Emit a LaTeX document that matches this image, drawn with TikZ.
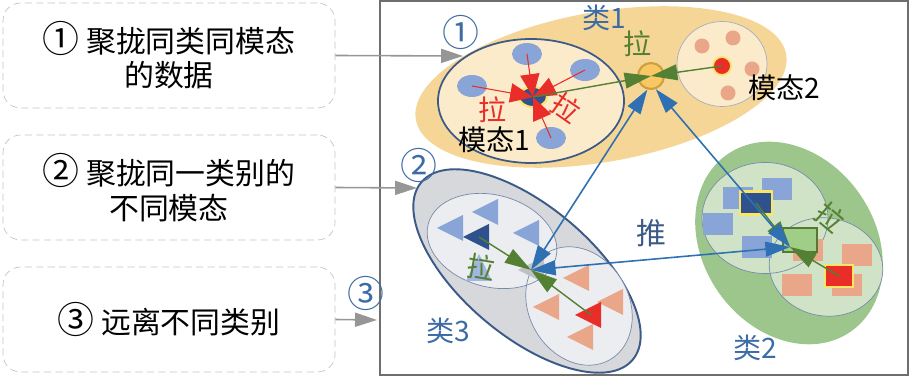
\documentclass[tikz,border=0pt]{standalone}
\usepackage{fontspec}
\setmainfont{Noto Sans CJK SC}
\usetikzlibrary{shapes.geometric,arrows.meta}
\definecolor{clsone}{RGB}{246,214,150}
\definecolor{modfill}{RGB}{252,235,202}
\definecolor{dotblue}{RGB}{137,165,215}
\definecolor{darkblue}{RGB}{47,82,143}
\definecolor{markred}{RGB}{233,45,40}
\definecolor{pink}{RGB}{234,166,136}
\definecolor{yel}{RGB}{250,230,100}
\definecolor{clsthree}{RGB}{214,216,220}
\definecolor{inthree}{RGB}{236,237,240}
\definecolor{clstwo}{RGB}{156,198,140}
\definecolor{intwo}{RGB}{208,227,199}
\definecolor{edgeblue}{RGB}{60,90,135}
\definecolor{thinblue}{RGB}{120,140,170}
\definecolor{lblblue}{RGB}{60,108,165}
\definecolor{ggreen}{RGB}{84,128,52}
\definecolor{bblue}{RGB}{46,112,178}
\definecolor{protofill}{RGB}{248,200,100}
\definecolor{protoring}{RGB}{205,160,60}
\definecolor{gprotofill}{RGB}{160,205,135}
\definecolor{gprotoring}{RGB}{85,120,50}
\definecolor{grayproto}{RGB}{190,192,196}
\definecolor{boxgray}{RGB}{195,195,195}
\definecolor{arrowgray}{RGB}{150,150,150}
\definecolor{framegray}{RGB}{110,110,110}
\newlength\pxu
\setlength\pxu{0.02cm}
% circled step number, set a bit larger
\newcommand{\circnum}[1]{{\fontsize{21pt}{21pt}\selectfont #1}}
% triangle marker: tip at (#1,#2), name #3, colour #4
\newcommand{\marktri}[4]{%
  \fill[#4] (#1,#2) -- ++(26,-13) -- ++(0,26) -- cycle;
  \path (#1,#2) ++(16,0) coordinate (#3);}

\begin{document}
\begin{tikzpicture}[x=0.02cm,y=-0.02cm,
  stepbox/.style={draw=boxgray,dash pattern=on 4pt off 2.5pt,rounded corners=10pt,
    minimum width=332*\pxu,minimum height=105*\pxu,align=center,inner sep=0pt,
    font=\fontsize{17pt}{19.5pt}\selectfont},
  lbl/.style={inner sep=0pt,font=\fontsize{16pt}{16pt}\selectfont},
  oval/.style={ellipse,inner sep=0pt},
  dot/.style={ellipse,inner sep=0pt,fill=dotblue,minimum width=30*\pxu,minimum height=22*\pxu},
  pdot/.style={circle,inner sep=0pt,fill=pink,minimum size=15*\pxu},
  sq/.style={rectangle,inner sep=0pt,minimum width=30*\pxu,minimum height=22*\pxu},
  grayarrow/.style={arrowgray,line width=0.9pt,-{Triangle[length=12.5pt,width=8pt]}},
  rarrow/.style={markred,line width=0.6pt,-{Triangle[length=13pt,width=11pt]}},
  garrow/.style={ggreen,line width=0.8pt,-{Triangle[length=15pt,width=9pt]}},
  barrow/.style={bblue,line width=0.9pt,{Triangle[length=14pt,width=8.5pt]}-{Triangle[length=14pt,width=8.5pt]}}]
\useasboundingbox (0,0) rectangle (910,377);

% left steps
\node[stepbox] (box1) at (169,55.5) {\circnum{①} 聚拢同类同模态\\的数据};
\node[stepbox] (box2) at (169,187.5) {\circnum{②} 聚拢同一类别的\\不同模态};
\node[stepbox] (box3) at (169,319.5) {\circnum{③} 远离不同类别};

\draw[framegray,line width=0.6pt] (380,1) rectangle (908,375);

% class 1
\node[oval,fill=clsone,minimum width=376*\pxu,minimum height=150*\pxu,rotate=10] (cls1) at (601,87) {};
\node[oval,fill=modfill,draw=edgeblue,line width=1pt,minimum width=186*\pxu,minimum height=124*\pxu] (mod1) at (531,101) {};
\node[oval,fill=modfill,draw=thinblue!70,line width=0.4pt,minimum width=90*\pxu,minimum height=85*\pxu] (mod2) at (722,64) {};

% class 3
\node[oval,fill=clsthree,draw=edgeblue,line width=1.1pt,minimum width=276*\pxu,minimum height=130*\pxu,rotate=-40] (cls3) at (527,271) {};
\node[oval,fill=inthree,minimum width=132*\pxu,minimum height=92*\pxu,rotate=-15] (mod3a) at (492,241) {};
\node[oval,fill=inthree,minimum width=124*\pxu,minimum height=100*\pxu,rotate=-60] (mod3b) at (579,306) {};
\node[oval,draw=thinblue,line width=0.4pt,minimum width=132*\pxu,minimum height=92*\pxu,rotate=-15] (mod3ao) at (492,241) {};
\node[oval,draw=thinblue,line width=0.4pt,minimum width=124*\pxu,minimum height=100*\pxu,rotate=-60] (mod3bo) at (579,306) {};

% class 2
\node[oval,fill=clstwo,minimum width=216*\pxu,minimum height=172*\pxu,rotate=-55] (cls2) at (789,243) {};
\node[oval,fill=intwo,minimum width=126*\pxu,minimum height=111*\pxu] (mod2a) at (765,218) {};
\node[oval,fill=intwo,minimum width=114*\pxu,minimum height=98*\pxu,rotate=-10] (mod2b) at (826,267) {};
\node[oval,draw=thinblue,line width=0.4pt,minimum width=126*\pxu,minimum height=111*\pxu] (mod2ao) at (765,218) {};
\node[oval,draw=thinblue,line width=0.4pt,minimum width=114*\pxu,minimum height=98*\pxu,rotate=-10] (mod2bo) at (826,267) {};

% class 1 markers
\node[dot] (d1) at (527,54) {};
\node[dot] (d2) at (585,70) {};
\node[dot] (d3) at (472,86) {};
\node[dot] (d4) at (551,138) {};
\node[dot,fill=darkblue,draw=yel,line width=1.2pt,minimum width=28*\pxu,minimum height=20*\pxu] (m1c) at (533,97) {};
\foreach \d in {d1,d2,d3,d4}
  \draw[rarrow] (\d.center) -- (m1c.center);
\foreach \n/\x/\y in {e1/733/38,e2/702/46,e3/752/69,e4/728/93}
  \node[pdot] (\n) at (\x,\y) {};
\node[pdot,fill=markred,draw=yel,line width=1pt,minimum size=18*\pxu] (m2c) at (722,66) {};
\node[circle,inner sep=0pt,fill=protofill,draw=protoring,line width=1.2pt,minimum size=26*\pxu] (p1) at (651,76) {};
\draw[garrow] (m1c.center) -- (p1.center);
\draw[garrow] (m2c.center) -- (p1.center);

% class 3 markers
\marktri{437}{228}{t1}{dotblue}
\marktri{472}{212}{t2}{dotblue}
\marktri{513}{233}{t3}{dotblue}
\fill[dotblue!80] (479,254) -- (492,281) -- (466,281) -- cycle;
\marktri{463}{237}{tdark}{darkblue}
\marktri{563}{278}{o1}{pink}
\marktri{533}{307}{o2}{pink}
\marktri{597}{302}{o3}{pink}
\marktri{567}{337}{o4}{pink}
\marktri{575}{315}{tred}{markred}
\marktri{518}{270}{tgray}{grayproto}
\coordinate (c3) at (531,270);
\draw[garrow] (tdark) -- (c3);
\draw[garrow] (tred) -- (c3);

% class 2 markers
\node[sq,fill=dotblue] (s1) at (738,198) {};
\node[sq,fill=dotblue] (s2) at (777,189) {};
\node[sq,fill=dotblue] (s3) at (718,224) {};
\node[sq,fill=dotblue] (s4) at (757,247) {};
\node[sq,fill=darkblue,draw=yel,line width=1.2pt,minimum width=32*\pxu,minimum height=23*\pxu] (sd) at (756,203) {};
\node[sq,fill=pink] (q1) at (808,250) {};
\node[sq,fill=pink] (q2) at (857,255) {};
\node[sq,fill=pink] (q3) at (797,285) {};
\node[sq,fill=pink] (q4) at (847,285) {};
\node[sq,fill=markred,draw=yel,line width=1.2pt,minimum width=28*\pxu] (sr) at (839,276) {};
\node[sq,fill=gprotofill,draw=gprotoring,line width=1.5pt,minimum width=34*\pxu,minimum height=24*\pxu] (g2) at (800,240) {};
\coordinate (c2) at (790,247);
\draw[garrow] (sd.center) -- (c2);
\draw[garrow] (sr.center) -- (c2);

% push between prototypes
\draw[barrow] (p1.255) -- (c3);
\draw[barrow] (p1.290) -- (c2);
\draw[barrow] (c3) -- (c2);

% arrows from the steps
\coordinate (in1) at (463,56);
\coordinate (in2) at (417,188);
\coordinate (in3) at (377,320);
\draw[grayarrow] (box1.east) -- (in1);
\draw[grayarrow] (box2.east) -- (in2);
\draw[grayarrow] (box3.east) -- (in3);

% labels
\node[lbl,text=lblblue] (num1) at (461,32) {\circnum{①}};
\node[lbl,text=lblblue] (num2) at (419,165) {\circnum{②}};
\node[lbl,text=lblblue] (num3) at (366,293) {\circnum{③}};
\node[lbl,text=lblblue] (lab1) at (604,18) {类1};
\node[lbl,text=lblblue] (lab2) at (755,348) {类2};
\node[lbl,text=lblblue] (lab3) at (448,331) {类3};
\node[lbl] (mode1) at (494,140) {模态1};
\node[lbl] (mode2) at (784,88) {模态2};
\node[lbl,text=ggreen] (pull1) at (638,44) {拉};
\node[lbl,text=markred] (pull2) at (493,110) {拉};
\node[lbl,text=markred,rotate=-35] (pull3) at (566,108) {拉};
\node[lbl,text=ggreen,rotate=-10] (pull4) at (481,267) {拉};
\node[lbl,text=ggreen,rotate=-40] (pull5) at (830,217) {拉};
\node[lbl,text=edgeblue,font=\fontsize{17pt}{17pt}\selectfont] (push) at (651,233) {推};
\end{tikzpicture}
\end{document}
